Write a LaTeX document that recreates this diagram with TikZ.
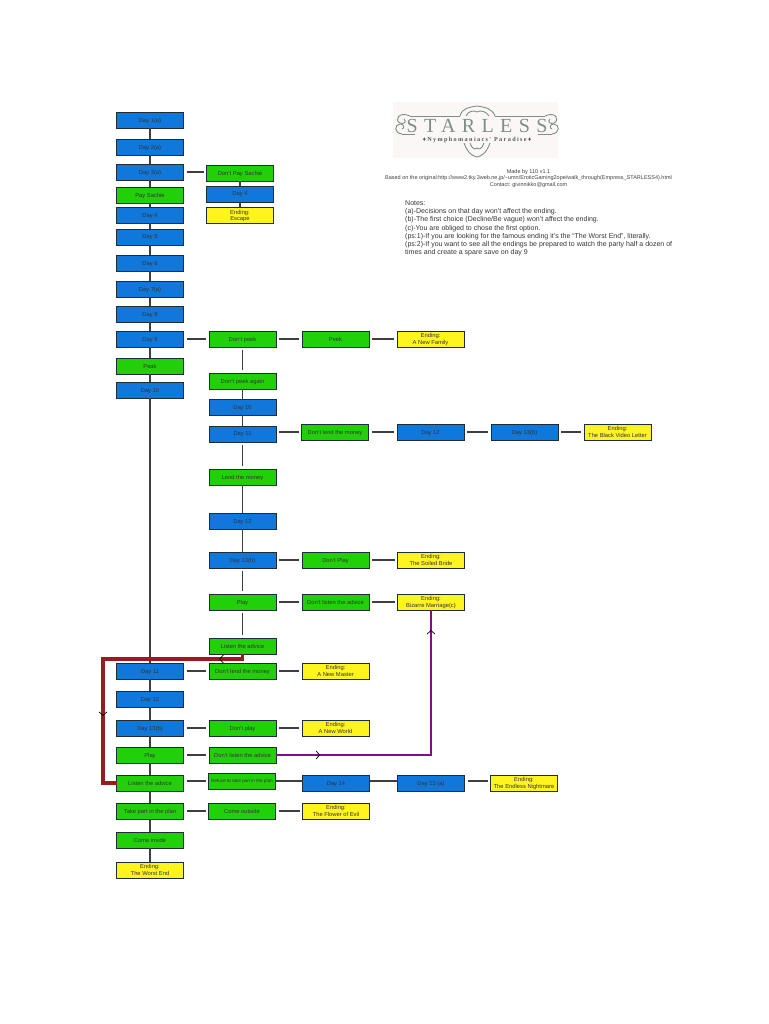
\documentclass[tikz,border=0pt]{standalone}
\usepackage{fontspec}
\setmainfont{Liberation Sans}
\newfontfamily\logofont[LetterSpace=32]{Liberation Serif}
\newfontfamily\logosubfont[LetterSpace=22]{Liberation Serif}
\usepackage{xcolor}
\usetikzlibrary{arrows.meta,positioning,decorations.markings}
\definecolor{dayblue}{HTML}{0F78DA}
\definecolor{choicegreen}{HTML}{22D00A}
\definecolor{endyellow}{HTML}{FFF41E}
\definecolor{boxline}{HTML}{1E2E38}
\definecolor{linkgrey}{HTML}{3E3E3E}
\definecolor{redlink}{HTML}{9A1A1E}
\definecolor{purplelink}{HTML}{7C1086}
\definecolor{logogreen}{HTML}{7E9084}
\definecolor{logopale}{HTML}{FBF7F7}

\begin{document}
\begin{tikzpicture}[
    x=1pt, y=1pt,
    node distance=10pt and 26pt,
    box/.style={draw=boxline, line width=0.9pt, minimum width=67pt, minimum height=16pt, inner sep=0pt, outer sep=0pt, align=center, text depth=0pt, text=black!80, font=\fontsize{5.8}{6.6}\selectfont},
    day/.style={box, fill=dayblue},
    choice/.style={box, fill=choicegreen},
    ending/.style={box, fill=endyellow},
    link/.style={draw=linkgrey, line width=1.3pt},
    gaplink/.style={link, shorten <=3pt, shorten >=3pt},
    barbs/.style 2 args={postaction={decorate}, decoration={markings,
        mark=at position #1 with {\arrow[black]{Straight Barb[length=3.5pt,width=8pt,line width=0.7pt]}},
        mark=at position #2 with {\arrow[black]{Straight Barb[length=3.5pt,width=8pt,line width=0.7pt]}}}},
    info/.style={inner sep=0pt, align=center, text=black!75, font=\fontsize{5.5}{6.7}\selectfont},
    swirl/.style={draw=logogreen, line width=0.9pt}
]
\useasboundingbox (0,0) rectangle (768,-1024);

% main column
\node[day] (dayone) at (150,-120.5) {Day 1(a)};
\node[day, below=10.5pt of dayone] (daytwo) {Day 2(a)};
\node[day, below=9pt of daytwo] (daythree) {Day 3(a)};
\node[choice, below=7pt of daythree] (pay) {Pay Sachie};
\node[day, below=4.5pt of pay] (dayfour) {Day 4};
\node[day, below=5.5pt of dayfour] (dayfive) {Day 5};
\node[day, below=10pt of dayfive] (daysix) {Day 6};
\node[day, below=10pt of daysix] (dayseven) {Day 7(a)};
\node[day, below=9pt of dayseven] (dayeight) {Day 8};
\node[day, below=9pt of dayeight] (daynine) {Day 9};
\node[choice, below=11pt of daynine] (peak) {Peak};
\node[day, below=8pt of peak] (dayten) {Day 10};
\node[day, below=265pt of dayten] (dayeleven) {Day 11};
\node[day, below=12pt of dayeleven] (daytwelve) {Day 12};
\node[day, below=13pt of daytwelve] (daythirteen) {Day 13(b)};
\node[choice, below=11pt of daythirteen] (play) {Play};
\node[choice, below=12pt of play] (listen) {Listen the advice};
\node[choice, below=12pt of listen] (takepart) {Take part in the plan};
\node[choice, below=13pt of takepart] (comein) {Come inside};
\node[ending, below=14pt of comein] (worst) {Ending:\\The Worst End};

% escape branch
\node[choice, right=23pt of daythree, yshift=-1pt] (nopay) {Don't Pay Sachie};
\node[day, below=5pt of nopay] (dayfourb) {Day 4};
\node[ending, below=5.5pt of dayfourb] (escape) {Ending:\\Escape};

% second column
\node[choice, right=25.5pt of daynine] (nopeek) {Don't peek};
\node[choice, right=26pt of nopeek] (peekb) {Peek};
\node[ending, right=28pt of peekb] (family) {Ending:\\A New Family};
\node[choice, below=26pt of nopeek] (nopeekagain) {Don't peek again};
\node[day, below=10pt of nopeekagain] (daytenb) {Day 10};
\node[day, below=11pt of daytenb] (dayelevenb) {Day 11};
\node[choice, right=25.5pt of dayelevenb, yshift=2pt] (nolendb) {Don't lend the money};
\node[day, right=28.5pt of nolendb] (daytwelvec) {Day 12};
\node[day, right=27pt of daytwelvec] (daythirteenc) {Day 13(b)};
\node[ending, right=26pt of daythirteenc] (letter) {Ending:\\The Black Video Letter};
\node[choice, below=27pt of dayelevenb] (lend) {Lend the money};
\node[day, below=28pt of lend] (daytwelveb) {Day 12};
\node[day, below=23pt of daytwelveb] (daythirteenb) {Day 13(b)};
\node[choice, right=26pt of daythirteenb] (noplayb) {Don't Play};
\node[ending, right=28.5pt of noplayb] (bride) {Ending:\\The Soiled Bride};
\node[choice, below=26pt of daythirteenb] (playb) {Play};
\node[choice, right=26pt of playb] (nolistenb) {Don't listen the advice};
\node[ending, right=28.5pt of nolistenb] (bizarre) {Ending:\\Bizarre Marriage(c)};
\node[choice, below=28pt of playb] (listenb) {Listen the advice};

% lower rows
\node[choice, right=25.5pt of dayeleven] (nolend) {Don't lend the money};
\node[ending, right=26pt of nolend] (master) {Ending:\\A New Master};
\node[choice, right=25.5pt of daythirteen] (noplay) {Don't play};
\node[ending, right=26pt of noplay] (world) {Ending:\\A New World};
\node[choice, right=25.5pt of play] (nolisten) {Don't listen the advice};
\node[choice, right=25pt of listen, yshift=2pt, font=\fontsize{4.6}{5}\selectfont] (refuse) {Refuse to take part in the plan};
\node[day, right=27pt of refuse, yshift=-2pt] (dayfourteen) {Day 14};
\node[day, right=28pt of dayfourteen] (daythirteena) {Day 13 (a)};
\node[ending, right=26pt of daythirteena] (nightmare) {Ending:\\The Endless Nightmare};
\node[choice, right=25pt of takepart] (comeout) {Come outside};
\node[ending, right=27pt of comeout] (flower) {Ending:\\The Flower of Evil};

% main column links
\draw[link] (dayone) -- (daytwo);
\draw[link] (daytwo) -- (daythree);
\draw[link] (daythree) -- (pay);
\draw[link] (pay) -- (dayfour);
\draw[link] (dayfour) -- (dayfive);
\draw[link] (dayfive) -- (daysix);
\draw[link] (daysix) -- (dayseven);
\draw[link] (dayseven) -- (dayeight);
\draw[link] (dayeight) -- (daynine);
\draw[link] (daynine) -- (peak);
\draw[link] (peak) -- (dayten);
\draw[link] (dayten) -- (dayeleven);
\draw[link] (dayeleven) -- (daytwelve);
\draw[link] (daytwelve) -- (daythirteen);
\draw[link] (daythirteen) -- (play);
\draw[link] (play) -- (listen);
\draw[link] (listen) -- (takepart);
\draw[link] (takepart) -- (comein);
\draw[link] (comein) -- (worst);

% escape branch links
\draw[gaplink] (daythree.east) -- (daythree.east -| nopay.west);
\draw[link] (nopay) -- (dayfourb);
\draw[link] (dayfourb) -- (escape);

% second column links
\draw[gaplink] (daynine) -- (nopeek);
\draw[gaplink] (nopeek) -- (peekb);
\draw[gaplink] (peekb) -- (family);
\draw[gaplink] (nopeek) -- (nopeekagain);
\draw[link] (nopeekagain) -- (daytenb);
\draw[link] (daytenb) -- (dayelevenb);
\draw[gaplink] (nolendb.west -| dayelevenb.east) -- (nolendb.west);
\draw[gaplink] (nolendb) -- (daytwelvec);
\draw[gaplink] (daytwelvec) -- (daythirteenc);
\draw[gaplink] (daythirteenc) -- (letter);
\draw[gaplink] (dayelevenb) -- (lend);
\draw[link] (lend) -- (daytwelveb);
\draw[link] (daytwelveb) -- (daythirteenb);
\draw[gaplink] (daythirteenb) -- (noplayb);
\draw[gaplink] (noplayb) -- (bride);
\draw[gaplink] (daythirteenb) -- (playb);
\draw[gaplink] (playb) -- (nolistenb);
\draw[gaplink] (nolistenb) -- (bizarre);
\draw[gaplink] (playb) -- (listenb);

% lower row links
\draw[gaplink] (dayeleven) -- (nolend);
\draw[gaplink] (nolend) -- (master);
\draw[gaplink] (daythirteen) -- (noplay);
\draw[gaplink] (noplay) -- (world);
\draw[gaplink] (play) -- (nolisten);
\draw[gaplink] (listen.east |- refuse.west) -- (refuse.west);
\draw[link] (refuse.east) -- (refuse.east -| dayfourteen.west);
\draw[link] (dayfourteen.east |- refuse.east) -- (daythirteena.west |- refuse.east);
\draw[gaplink] (daythirteena.east |- refuse.east) -- (nightmare.west |- refuse.east);
\draw[gaplink] (takepart) -- (comeout);
\draw[gaplink] (comeout) -- (flower);

% jumps
\coordinate (redcorner) at (103,-659);
\draw[draw=redlink, line width=3.2pt, barbs={0.1}{0.714}] (listenb.south) |- (redcorner) |- (listen.west);
\draw[draw=purplelink, line width=2.4pt, barbs={0.147}{0.933}] (nolisten.east) -| (bizarre.south);

% logo
\fill[logopale] (393,-102) rectangle (558,-158);
\node[inner sep=0pt, text=logogreen, font=\logofont\fontsize{20}{20}\selectfont] (logotitle) at (477,-126) {STARLESS};
\node[inner sep=0pt, text=black!65, font=\logosubfont\fontsize{6.2}{7}\bfseries\selectfont, below=4.5pt of logotitle] (logosub) {♦Nymphomaniacs' Paradise♦};
\draw[swirl] (410,-116) -- (460,-116) (495,-116) -- (545,-116) (402,-134) -- (415,-134) (538,-134) -- (552,-134);
\draw[swirl] (410,-116) .. controls (399,-111) and (394,-120) .. (400,-123) .. controls (404,-125) and (407,-121) .. (404,-119);
\draw[swirl] (402,-134) .. controls (394,-133) and (394,-125) .. (400,-124) .. controls (404,-124) and (405,-128) .. (402,-129);
\draw[swirl] (545,-116) .. controls (556,-111) and (560,-120) .. (554,-123) .. controls (550,-125) and (547,-121) .. (550,-119);
\draw[swirl] (552,-134) .. controls (560,-133) and (560,-125) .. (554,-124) .. controls (550,-124) and (549,-128) .. (552,-129);
\draw[swirl] (460,-116) .. controls (462,-108) and (470,-107) .. (477,-106) .. controls (484,-107) and (492,-108) .. (495,-116);
\draw[swirl] (466,-116) .. controls (468,-111) and (474,-110) .. (477,-112) .. controls (480,-110) and (486,-111) .. (489,-116);
\draw[swirl] (464,-143) .. controls (468,-154) and (473,-156) .. (477,-157) .. controls (481,-156) and (486,-154) .. (490,-143);
\draw[swirl] (470,-143) .. controls (472,-149) and (475,-150) .. (477,-148) .. controls (479,-150) and (482,-149) .. (484,-143);

% credits and notes
\node[info] (credits) at (528.5,-178.5) {Made by 110 v1.1\\Based on the original:http://www2.tky.3web.ne.jp/\string~umn/EroticGaming2ope/walk\_through(Empress\_STARLESS4).html\\Contact: givinnikko@gmail.com};
\node[inner sep=0pt, align=left, anchor=north west, text=black!80, font=\fontsize{7}{8.17}\selectfont] (notes) at (405,-200.5) {Notes:\\(a)-Decisions on that day won't affect the ending.\\(b)-The first choice (Decline/Be vague) won't affect the ending.\\(c)-You are obliged to chose the first option.\\(ps:1)-If you are looking for the famous ending it's the ``The Worst End'', literally.\\(ps:2)-If you want to see all the endings be prepared to watch the party half a dozen of\\times and create a spare save on day 9};
\end{tikzpicture}
\end{document}
